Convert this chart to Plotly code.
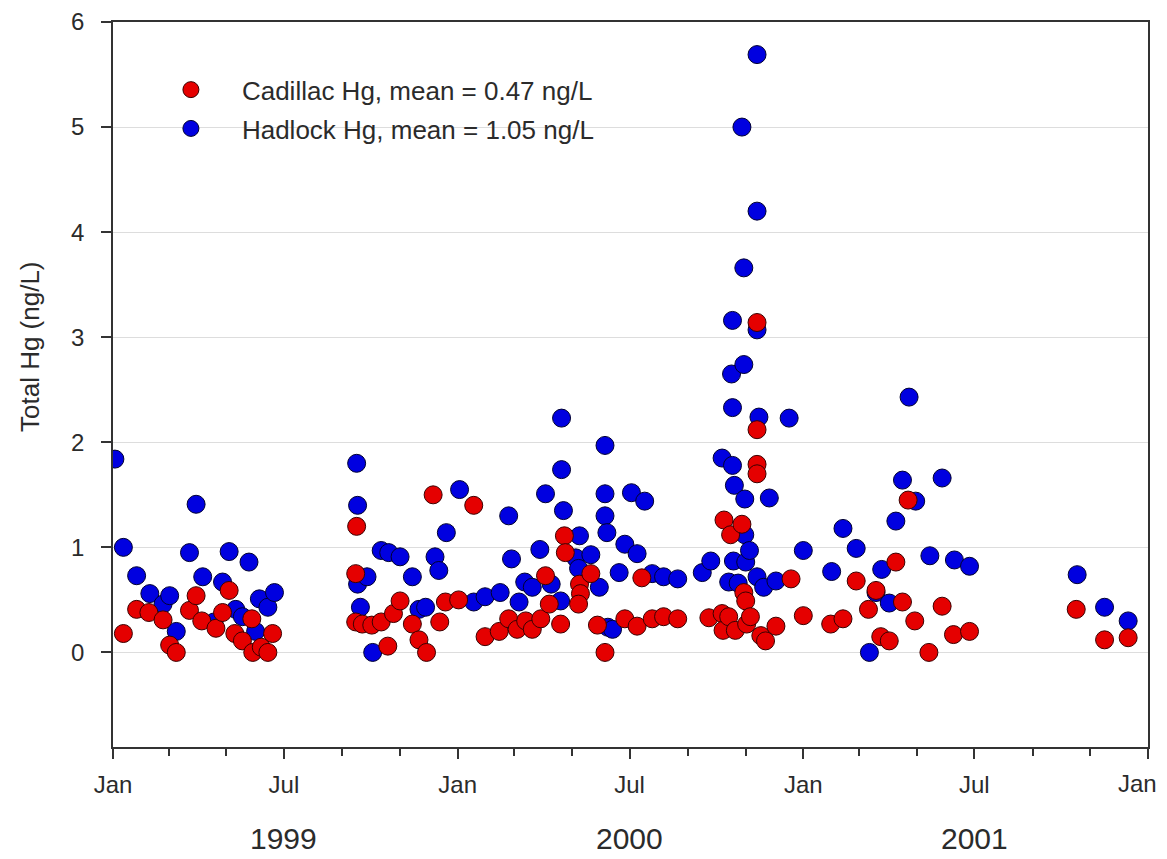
import plotly.graph_objects as go

cad_dates = [
    "1999-01-12", "1999-01-26", "1999-02-08", "1999-02-23", "1999-03-02", "1999-03-09",
    "1999-03-23", "1999-03-30", "1999-04-05", "1999-04-20", "1999-04-27", "1999-05-04",
    "1999-05-10", "1999-05-18", "1999-05-28", "1999-05-29", "1999-06-07", "1999-06-14",
    "1999-06-19",
    "1999-09-15", "1999-09-16", "1999-09-15", "1999-09-22", "1999-10-02", "1999-10-12",
    "1999-10-19", "1999-10-25", "1999-11-01", "1999-11-14", "1999-11-21", "1999-11-29",
    "1999-12-06", "1999-12-13", "1999-12-19", "2000-01-02", "2000-01-18", "2000-01-30",
    "2000-02-14", "2000-02-24", "2000-03-04", "2000-03-13", "2000-03-20", "2000-03-29",
    "2000-04-03", "2000-04-07", "2000-04-19", "2000-04-23", "2000-04-24", "2000-05-09",
    "2000-05-10", "2000-05-08", "2000-05-21", "2000-05-28", "2000-06-05", "2000-06-26",
    "2000-07-09", "2000-07-14", "2000-07-25", "2000-08-06", "2000-08-21", "2000-09-23",
    "2000-10-07", "2000-10-08", "2000-10-09", "2000-10-14", "2000-10-16", "2000-10-21",
    "2000-10-28", "2000-10-30", "2000-11-01", "2000-11-02", "2000-11-06", "2000-11-13",
    "2000-11-13", "2000-11-13", "2000-11-13", "2000-11-17", "2000-11-22", "2000-12-03",
    "2000-12-19", "2001-01-01", "2001-01-30", "2001-02-12", "2001-02-26", "2001-03-11",
    "2001-03-19", "2001-03-24", "2001-04-02", "2001-04-09", "2001-04-16", "2001-04-22",
    "2001-04-29", "2001-05-14", "2001-05-28", "2001-06-09", "2001-06-26", "2001-10-17",
    "2001-11-16", "2001-12-11",
]
cad_hg = [
    0.18, 0.41, 0.38, 0.31, 0.07, 0.00,
    0.40, 0.54, 0.30, 0.23, 0.38, 0.59,
    0.18, 0.11, 0.32, 0.00, 0.05, 0.00,
    0.18,
    0.75, 1.20, 0.29, 0.27, 0.26, 0.29,
    0.06, 0.37, 0.49, 0.27, 0.12, 0.00,
    1.50, 0.29, 0.48, 0.50, 1.40, 0.15,
    0.20, 0.32, 0.22, 0.30, 0.22, 0.32,
    0.73, 0.46, 0.27, 1.11, 0.95, 0.65,
    0.56, 0.46, 0.75, 0.26, 0.00, 0.32,
    0.25, 0.71, 0.32, 0.34, 0.32, 0.33,
    0.37, 0.21, 1.26, 0.34, 1.12, 0.21,
    1.22, 0.57, 0.49, 0.27, 0.34, 3.14,
    2.12, 1.79, 1.70, 0.16, 0.11, 0.25,
    0.70, 0.35, 0.27, 0.32, 0.68, 0.41,
    0.59, 0.15, 0.11, 0.86, 0.48, 1.45,
    0.30, 0.00, 0.44, 0.17, 0.20, 0.41,
    0.12, 0.14,
]

had_dates = [
    "1999-01-03", "1999-01-12", "1999-01-26", "1999-02-09", "1999-02-23", "1999-03-02",
    "1999-03-09", "1999-03-23", "1999-03-30", "1999-04-06", "1999-04-18", "1999-04-27",
    "1999-05-04", "1999-05-11", "1999-05-18", "1999-05-25", "1999-06-01", "1999-06-05",
    "1999-06-14", "1999-06-21",
    "1999-09-16", "1999-09-17", "1999-09-17", "1999-09-20", "1999-09-27", "1999-10-03",
    "1999-10-12", "1999-10-20", "1999-11-01", "1999-11-14", "1999-11-21", "1999-11-28",
    "1999-12-08", "1999-12-12", "1999-12-20", "2000-01-03", "2000-01-18", "2000-01-30",
    "2000-02-15", "2000-02-24", "2000-02-27", "2000-03-06", "2000-03-12", "2000-03-20",
    "2000-03-28", "2000-04-03", "2000-04-09", "2000-04-19", "2000-04-20", "2000-04-20",
    "2000-04-22", "2000-05-05", "2000-05-08", "2000-05-09", "2000-05-21", "2000-05-30",
    "2000-06-05", "2000-06-05", "2000-06-05", "2000-06-07", "2000-06-08", "2000-06-13",
    "2000-06-20", "2000-06-26", "2000-07-03", "2000-07-09", "2000-07-17", "2000-07-25",
    "2000-08-06", "2000-08-21", "2000-09-16", "2000-09-25", "2000-10-07", "2000-10-14",
    "2000-10-17", "2000-10-18", "2000-10-18", "2000-10-18", "2000-10-19", "2000-10-20",
    "2000-10-24", "2000-10-28", "2000-10-30", "2000-10-30", "2000-10-31", "2000-10-31",
    "2000-11-01", "2000-11-05", "2000-11-13", "2000-11-13", "2000-11-13", "2000-11-13",
    "2000-11-15", "2000-11-20", "2000-11-26", "2000-12-03", "2000-12-17", "2001-01-01",
    "2001-01-31", "2001-02-12", "2001-02-26", "2001-03-12", "2001-03-19", "2001-03-25",
    "2001-04-02", "2001-04-09", "2001-04-16", "2001-04-23", "2001-04-30", "2001-05-15",
    "2001-05-28", "2001-06-10", "2001-06-26", "2001-10-18", "2001-11-16", "2001-12-11",
]
had_hg = [
    1.84, 1.00, 0.73, 0.56, 0.46, 0.54,
    0.20, 0.95, 1.41, 0.72, 0.29, 0.67,
    0.96, 0.41, 0.34, 0.86, 0.20, 0.51,
    0.43, 0.57,
    1.80, 1.40, 0.65, 0.43, 0.72, 0.00,
    0.97, 0.95, 0.91, 0.72, 0.41, 0.43,
    0.91, 0.78, 1.14, 1.55, 0.48, 0.53,
    0.57, 1.30, 0.89, 0.48, 0.67, 0.62,
    0.98, 1.51, 0.65, 0.49, 2.23, 1.74,
    1.35, 0.90, 0.80, 1.11, 0.93, 0.62,
    1.97, 1.51, 1.30, 1.14, 0.24, 0.22,
    0.76, 1.03, 1.52, 0.94, 1.44, 0.75,
    0.72, 0.70, 0.76, 0.87, 1.85, 0.67,
    2.65, 3.16, 2.33, 1.78, 0.87, 1.59,
    0.66, 5.00, 3.66, 2.74, 1.46, 1.12,
    0.86, 0.97, 5.69, 4.20, 3.07, 0.72,
    2.24, 0.62, 1.47, 0.68, 2.23, 0.97,
    0.77, 1.18, 0.99, 0.00, 0.57, 0.79,
    0.47, 1.25, 1.64, 2.43, 1.44, 0.92,
    1.66, 0.88, 0.82, 0.74, 0.43, 0.30,
]

cad_name = "Cadillac Hg, mean = 0.47 ng/L"
had_name = "Hadlock Hg, mean = 1.05 ng/L"
y_title = "Total Hg (ng/L)"
year_labels = ["1999", "2000", "2001"]
year_pos = ["1999-07-01", "2000-07-01", "2001-07-01"]
x_tickvals = ["1999-01-01", "1999-07-01", "2000-01-01", "2000-07-01",
              "2001-01-01", "2001-07-01", "2002-01-01"]
x_ticktext = ["Jan", "Jul", "Jan", "Jul", "Jan", "Jul", "Jan"]
y_ticks = [0, 1, 2, 3, 4, 5, 6]

FONT = "Liberation Sans, Arial, sans-serif"
TXT = "#2b2b2b"

fig = go.Figure()
fig.add_trace(go.Scatter(
    x=had_dates, y=had_hg, mode="markers", name=had_name, legendgroup="h",
    legendrank=2,
    marker=dict(size=18, color="#0000e0", line=dict(color="#000030", width=1)),
))
fig.add_trace(go.Scatter(
    x=cad_dates, y=cad_hg, mode="markers", name=cad_name, legendgroup="c",
    legendrank=1,
    marker=dict(size=18, color="#e50000", line=dict(color="#3a0000", width=1)),
))

for lab, pos in zip(year_labels, year_pos):
    fig.add_annotation(x=pos, y=-0.126, xref="x", yref="paper", text=lab,
                       showarrow=False, yanchor="middle",
                       font=dict(family=FONT, size=30, color=TXT))

# the last tick label is drawn as an annotation, nudged left to stay on the page
fig.add_annotation(x=x_tickvals[-1], y=-0.051, xref="x", yref="paper",
                   text=x_ticktext[-1], showarrow=False, xanchor="center",
                   yanchor="middle", xshift=-11,
                   font=dict(family=FONT, size=24, color=TXT))

fig.add_annotation(x=-0.080, y=0.552, xref="paper", yref="paper", text=y_title,
                   textangle=-90, showarrow=False, xanchor="center", yanchor="middle",
                   font=dict(family=FONT, size=26, color=TXT))

# the page body has an 8px default margin, so the figure is 8px smaller and
# its margins are 8px less on the left/top to land the plot area in place
fig.update_layout(
    width=1159, height=851,
    margin=dict(l=105, r=19, t=14, b=112, autoexpand=False),
    paper_bgcolor="white", plot_bgcolor="white",
    font=dict(family=FONT, color=TXT),
    showlegend=True,
    legend=dict(x=0.026, y=0.939, xanchor="left", yanchor="top",
                bgcolor="rgba(0,0,0,0)", borderwidth=0,
                font=dict(family=FONT, size=26, color=TXT),
                traceorder="grouped", tracegroupgap=2, itemwidth=92),
    xaxis=dict(
        type="date", range=["1999-01-01", "2002-01-01"], automargin=False,
        tickvals=x_tickvals, ticktext=x_ticktext[:-1] + [""],
        ticks="outside", ticklen=10, tickwidth=1.5, tickcolor="#333333",
        minor=dict(dtick="M2", tick0="1999-01-01", ticks="outside", ticklen=7,
                   tickwidth=1.5, tickcolor="#333333", showgrid=False),
        showgrid=False, showline=True, linecolor="#333333", linewidth=1.5,
        mirror=True, zeroline=False, ticklabelstandoff=5,
        tickfont=dict(family=FONT, size=24, color=TXT),
    ),
    yaxis=dict(
        range=[-0.9, 6], tickvals=y_ticks, ticktext=[str(v) for v in y_ticks],
        automargin=False,
        ticks="outside", ticklen=10, tickwidth=1.5, tickcolor="#333333",
        showgrid=True, gridcolor="#dddddd", gridwidth=1,
        zeroline=False, showline=True, linecolor="#333333", linewidth=1.5,
        mirror=True, ticklabelstandoff=12,
        tickfont=dict(family=FONT, size=24, color=TXT),
    ),
)

fig.write_html("out.html")
